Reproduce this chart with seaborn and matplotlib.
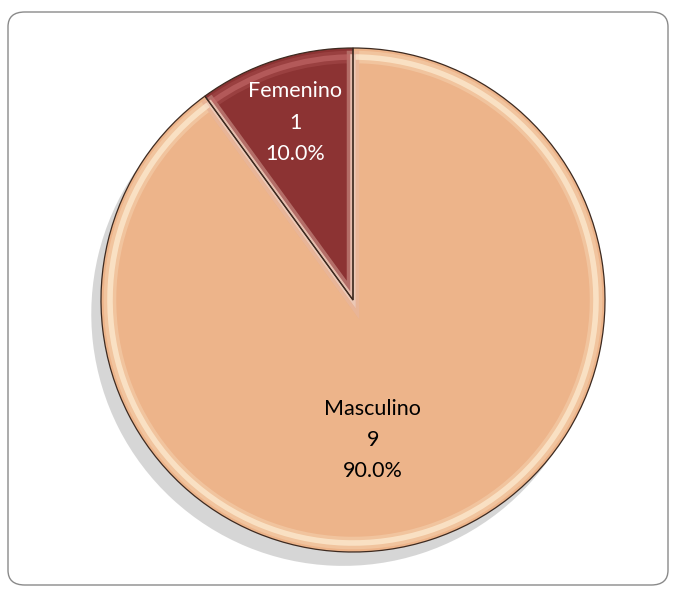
import numpy as np
import matplotlib
matplotlib.use("Agg")
import matplotlib.pyplot as plt
from matplotlib.patches import FancyBboxPatch
import seaborn as sns

# ---- data ----
categories = ["Femenino", "Masculino"]
counts = [1, 9]
slice_colors = ["#8C3333", "#EDB48A"]
rim_colors = ["#C46A6A", "#FFF4DC"]
label_colors = ["white", "black"]

sns.set_theme(style="white")
plt.rcParams["font.family"] = ["Lato", "DejaVu Sans"]

W, H = 673, 590
fig = plt.figure(figsize=(W / 100, H / 100), dpi=100)
fig.patch.set_facecolor("white")

# rounded border of the chart area
border = FancyBboxPatch((8 / W, 5 / H), (668 - 8) / W, (578 - 5) / H,
                        boxstyle="round,pad=0,rounding_size=0.025",
                        transform=fig.transFigure, facecolor="none",
                        edgecolor="#8a8a8a", linewidth=1.0, zorder=5)
fig.patches.append(border)

ax = fig.add_axes([0, 0, 1, 1])
ax.set_axis_off()
ax.patch.set_alpha(0)

cx, cy, r = 353, H - 300, 252
palette = sns.color_palette(slice_colors)

# filled slices with soft grey drop shadow
wedges, _ = ax.pie(counts, colors=palette, startangle=90, counterclock=True,
                   center=(cx, cy), radius=r, frame=False,
                   shadow={"ox": -7, "oy": -10, "facecolor": "#d2d2d2",
                           "edgecolor": "none", "alpha": 0.9},
                   wedgeprops=dict(edgecolor="none"))
# bevel highlight rim (soft outer glow + brighter inner line)
for rr, lw, al in [(r - 9, 9, 0.25), (r - 9, 4, 0.6)]:
    rims, _ = ax.pie(counts, startangle=90, counterclock=True,
                     center=(cx, cy), radius=rr, frame=False,
                     wedgeprops=dict(facecolor="none", linewidth=lw, alpha=al))
    for w, c in zip(rims, rim_colors):
        w.set_edgecolor(c)
# dark outline
outs, _ = ax.pie(counts, startangle=90, counterclock=True,
                 center=(cx, cy), radius=r, frame=False,
                 wedgeprops=dict(facecolor="none", edgecolor="#3d2a20",
                                 linewidth=0.9))

ax.set_xlim(0, W)
ax.set_ylim(0, H)
ax.set_aspect("equal")
ax.set_axis_off()

total = sum(counts)
label_pos = [(0.74, 0.0), (0.56, -10.0)]   # (fraction of radius, angle shift)
for w, cat, n, col, (d, sh) in zip(wedges, categories, counts, label_colors, label_pos):
    th = np.deg2rad((w.theta1 + w.theta2) / 2 + sh)
    x0, y0 = w.center
    ax.text(x0 + d * r * np.cos(th), y0 + d * r * np.sin(th),
            f"{cat}\n{n}\n{100 * n / total:.1f}%",
            ha="center", va="center", color=col, fontsize=15.5,
            linespacing=1.7)

fig.savefig("out.png", dpi=100, facecolor="white")
